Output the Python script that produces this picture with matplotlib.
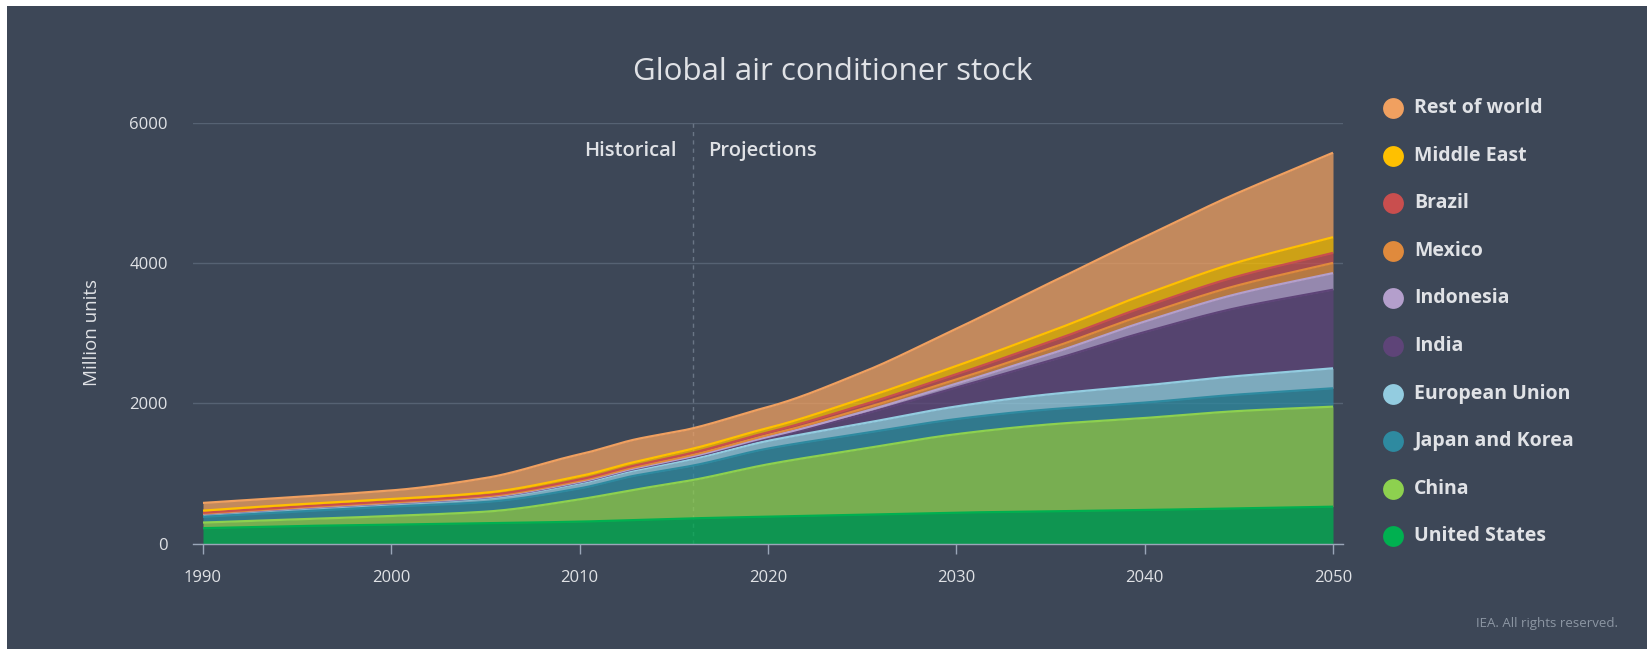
import numpy as np
import matplotlib
matplotlib.use("Agg")
import matplotlib.pyplot as plt
from matplotlib.lines import Line2D
from matplotlib.patches import Rectangle

plt.rcParams['font.family'] = ['Open Sans', 'DejaVu Sans']

# ---------------- data (million units) ----------------
years = [1990, 1995, 2000, 2005, 2010, 2013, 2016, 2020, 2025, 2030, 2035, 2040, 2045, 2050]
united_states = [220, 250, 270, 290, 313, 336, 360, 384, 412, 441, 460, 479, 502, 526]
china = [80, 95, 124, 165, 318, 437, 546, 746, 938, 1119, 1240, 1311, 1388, 1426]
japan_korea = [82, 112, 133, 138, 156, 199, 205, 225, 220, 215, 215, 220, 235, 262]
european_union = [38, 42, 40, 52, 71, 76, 95, 110, 140, 180, 215, 245, 265, 285]
india = [3, 5, 7, 10, 15, 20, 27, 40, 130, 270, 480, 760, 975, 1120]
indonesia = [2, 3, 4, 5, 7, 9, 12, 15, 35, 55, 95, 150, 200, 237]
mexico = [5, 7, 9, 12, 14, 17, 20, 28, 45, 60, 80, 100, 120, 145]
brazil = [10, 13, 15, 17, 20, 24, 30, 38, 55, 75, 95, 112, 130, 143]
middle_east = [30, 32, 33, 37, 48, 50, 58, 62, 90, 118, 145, 175, 200, 224]
rest_of_world = [110, 106, 123, 209, 310, 320, 290, 300, 375, 530, 695, 820, 990, 1204]

series_names = ["United States", "China", "Japan and Korea", "European Union", "India",
                "Indonesia", "Mexico", "Brazil", "Middle East", "Rest of world"]
series_values = [united_states, china, japan_korea, european_union, india,
                 indonesia, mexico, brazil, middle_east, rest_of_world]
series_colors = ["#00B050", "#8DD14F", "#2E8AA0", "#93CCE0", "#5E4478",
                 "#B49FCC", "#E08A3C", "#C94E4E", "#FFC000", "#F0A060"]

x_ticks = [1990, 2000, 2010, 2020, 2030, 2040, 2050]
y_ticks = [0, 2000, 4000, 6000]
split_year = 2016

BG = "#3D4757"
TXT = "#E0E2E6"
GRID = "#566273"


def smooth(x, y, xs):
    """Monotone cubic Hermite curve through the data points (spline drawing style)."""
    x = np.asarray(x, float); y = np.asarray(y, float)
    h = np.diff(x); d = np.diff(y) / h
    m = np.zeros_like(y)
    m[0], m[-1] = d[0], d[-1]
    for k in range(1, len(x) - 1):
        if d[k - 1] * d[k] <= 0:
            m[k] = 0.0
        else:
            w1 = 2 * h[k] + h[k - 1]
            w2 = h[k] + 2 * h[k - 1]
            m[k] = (w1 + w2) / (w1 / d[k - 1] + w2 / d[k])
    idx = np.clip(np.searchsorted(x, xs) - 1, 0, len(x) - 2)
    t = (xs - x[idx]) / h[idx]
    h00 = 2 * t**3 - 3 * t**2 + 1
    h10 = t**3 - 2 * t**2 + t
    h01 = -2 * t**3 + 3 * t**2
    h11 = t**3 - t**2
    return h00 * y[idx] + h10 * h[idx] * m[idx] + h01 * y[idx + 1] + h11 * h[idx] * m[idx + 1]


W, H = 1647, 649
fig = plt.figure(figsize=(W / 100, H / 100), dpi=100)
fig.patch.set_facecolor("white")
fig.add_artist(Rectangle((7 / W, 0), 1, (H - 6) / H, transform=fig.transFigure,
                         facecolor=BG, edgecolor="none", zorder=-10))

ax_l, ax_r = 193 / W, 1343 / W
ax_b, ax_t = (H - 543.6) / H, (H - 122.7) / H
ax = fig.add_axes([ax_l, ax_b, ax_r - ax_l, ax_t - ax_b])
ax.set_facecolor("none")

xs = np.linspace(years[0], years[-1], 600)
base = np.zeros_like(xs)
for name, vals, col in zip(series_names, series_values, series_colors):
    layer = np.maximum(smooth(years, vals, xs), 0)
    top = base + layer
    ax.fill_between(xs, base, top, color=col, alpha=0.75, linewidth=0, zorder=2)
    ax.plot(xs, top, color=col, lw=1.6, zorder=3, solid_capstyle="butt")
    base = top

ax.set_xlim(1990 - 10 / 18.83, 2050 + 10 / 18.83)
ax.set_ylim(0, 6000)
ax.set_xticks(x_ticks)
ax.set_yticks(y_ticks)
ax.set_xticklabels([str(v) for v in x_ticks], fontsize=12, color=TXT)
ax.set_yticklabels([str(v) for v in y_ticks], fontsize=12, color=TXT)
ax.tick_params(axis="y", length=0, pad=18)
ax.tick_params(axis="x", length=7, width=1, color="#9AA6B8", pad=12)
ax.grid(axis="y", color=GRID, lw=1, zorder=0)
ax.set_axisbelow(True)
for s in ["top", "right", "left"]:
    ax.spines[s].set_visible(False)
ax.spines["bottom"].set_color("#9AA6B8")
ax.spines["bottom"].set_linewidth(1)
ax.spines["bottom"].set_zorder(5)

ax.axvline(split_year, color="#6A7585", lw=1, ls=(0, (3, 3)), zorder=1)
ax.text(split_year - 0.85, 5590, "Historical", ha="right", va="center", fontsize=14.5,
        color=TXT, fontweight="semibold")
ax.text(split_year + 0.8, 5590, "Projections", ha="left", va="center", fontsize=14.5,
        color=TXT, fontweight="semibold")

fig.text(92 / W, 1 - 333 / H, "Million units", rotation=90, ha="center", va="center",
         fontsize=13.5, color=TXT)
fig.text(833 / W, 1 - 72 / H, "Global air conditioner stock", ha="center", va="center",
         fontsize=22.5, color=TXT)
fig.text(1618 / W, 1 - 623 / H, "IEA. All rights reserved.", ha="right", va="center",
         fontsize=9.5, color="#8C96A3")

# legend (top to bottom)
for i, (name, col) in enumerate(zip(series_names[::-1], series_colors[::-1])):
    y = 1 - (108 + 47.6 * i) / H
    fig.add_artist(Line2D([1393 / W], [y], marker="o", markersize=15, color=col,
                          markeredgewidth=0, transform=fig.transFigure))
    fig.text(1414 / W, y, name, ha="left", va="center", fontsize=14,
             fontweight="bold", color=TXT)

fig.savefig("out.png", dpi=100, facecolor=fig.get_facecolor())
